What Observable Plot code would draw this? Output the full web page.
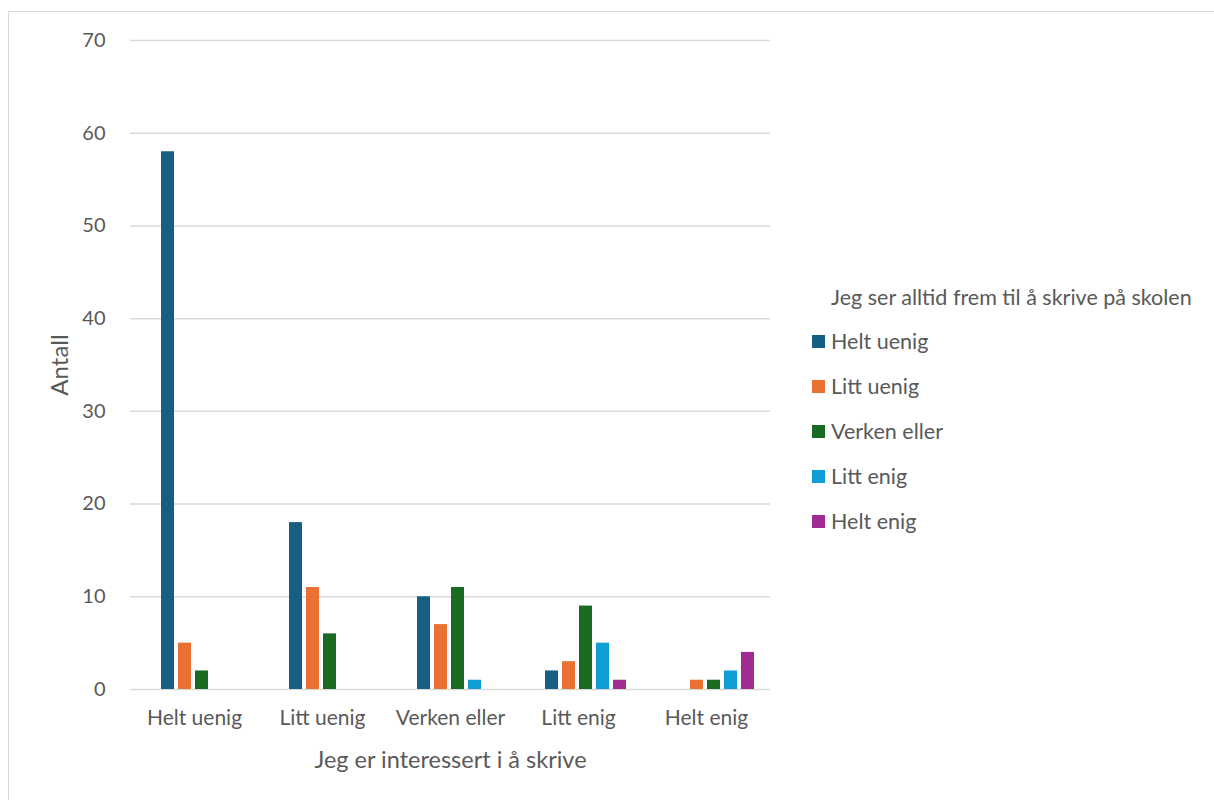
<!DOCTYPE html>
<html>
<head>
<meta charset="utf-8">
<script src="https://cdn.jsdelivr.net/npm/d3@7"></script>
<script src="https://cdn.jsdelivr.net/npm/@observablehq/plot@0.6"></script>
<style>
  html, body { margin: 0; padding: 0; background: #fff; overflow: hidden; }
  body { width: 1214px; height: 800px; position: relative; font-family: Lato, "Open Sans", sans-serif; color: #595959; }
  #frame { position: absolute; left: 8px; top: 11px; width: 1400px; height: 1000px; border: 1.5px solid #d9d9d9; box-sizing: border-box; }
  #chart { position: absolute; left: 0; top: 0; }
  #legend { position: absolute; left: 812px; top: 283px; font-size: 21.5px; }
  #legend .title { position: absolute; left: 19px; top: 0; white-space: nowrap; line-height: 28px; }
  #legend .item { position: absolute; left: 0; white-space: nowrap; line-height: 28px; display: flex; align-items: center; }
  #legend .sw { width: 13px; height: 13px; margin-right: 6px; display: inline-block; }
</style>
</head>
<body>
<div id="frame"></div>
<div id="chart"></div>
<div id="legend"></div>
<script>
const categories = ["Helt uenig", "Litt uenig", "Verken eller", "Litt enig", "Helt enig"];
const seriesNames = ["Helt uenig", "Litt uenig", "Verken eller", "Litt enig", "Helt enig"];
const seriesColors = ["#156082", "#E97132", "#196B24", "#0F9ED5", "#A02B93"];
const valuesHeltUenig = [58, 18, 10, 2, 0];
const valuesLittUenig = [5, 11, 7, 3, 1];
const valuesVerkenEller = [2, 6, 11, 9, 1];
const valuesLittEnig = [0, 0, 1, 5, 2];
const valuesHeltEnig = [0, 0, 0, 1, 4];
const yTicks = [0, 10, 20, 30, 40, 50, 60, 70];
const xTitle = "Jeg er interessert i å skrive";
const yTitle = "Antall";
const legendTitle = "Jeg ser alltid frem til å skrive på skolen";

const seriesValues = [valuesHeltUenig, valuesLittUenig, valuesVerkenEller, valuesLittEnig, valuesHeltEnig];
const data = [];
seriesNames.forEach((s, si) => {
  categories.forEach((c, ci) => {
    data.push({category: c, series: s, value: seriesValues[si][ci]});
  });
});

const textColor = "#595959";
const chart = Plot.plot({
  width: 1214,
  height: 800,
  marginLeft: 130,
  marginRight: 444,
  marginTop: 40,
  marginBottom: 111,
  style: {fontFamily: "Lato, 'Open Sans', sans-serif", fontSize: "20px", color: textColor, background: "transparent"},
  fx: {domain: categories, padding: 0},
  x: {domain: seriesNames, paddingInner: 0.22, paddingOuter: 1.37, align: 0.66, axis: null},
  y: {domain: [0, 70]},
  color: {domain: seriesNames, range: seriesColors},
  marks: [
    Plot.ruleY(yTicks, {stroke: "#d9d9d9", strokeWidth: 1.5}),
    Plot.barY(data.filter(d => d.value > 0), {fx: "category", x: "series", y: "value", fill: "series"}),
    Plot.axisY(yTicks, {ticks: yTicks, tickSize: 0, tickPadding: 25, fontSize: 20, fill: textColor, label: null}),
    Plot.axisFx({anchor: "bottom", tickSize: 0, tickPadding: 21, fontSize: 21, fill: textColor, label: null}),
    Plot.text([yTitle], {facet: "super", frameAnchor: "left", dx: -70, rotate: -90, fontSize: 24, fill: textColor, text: d => d, textAnchor: "middle"}),
    Plot.text([xTitle], {facet: "super", frameAnchor: "bottom", dy: 71, fontSize: 23.5, fill: textColor, text: d => d, lineAnchor: "middle"})
  ]
});
document.getElementById("chart").appendChild(chart);

const legend = document.getElementById("legend");
const t = document.createElement("div");
t.className = "title";
t.textContent = legendTitle;
legend.appendChild(t);
seriesNames.forEach((s, i) => {
  const it = document.createElement("div");
  it.className = "item";
  it.style.top = (44 + i * 45) + "px";
  const sw = document.createElement("span");
  sw.className = "sw";
  sw.style.background = seriesColors[i];
  it.appendChild(sw);
  const tx = document.createElement("span");
  tx.textContent = s;
  it.appendChild(tx);
  legend.appendChild(it);
});
</script>
</body>
</html>
